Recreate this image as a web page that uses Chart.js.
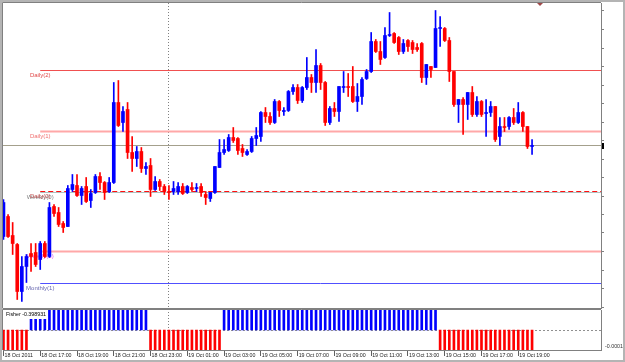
<!DOCTYPE html>
<html>
<head>
<meta charset="utf-8">
<script src="https://cdn.jsdelivr.net/npm/chart.js@4.4.1/dist/chart.umd.min.js"></script>
<style>
html, body { margin: 0; padding: 0; background: #fff; }
#wrap { position: relative; width: 625px; height: 362px; overflow: hidden; background: #fff; }
#main { position: absolute; left: 0; top: 0; }
#sub { position: absolute; left: 0; top: 309px; }
#frame { position: absolute; left: 0; top: 0; width: 625px; height: 362px; box-sizing: border-box; border: 2px solid #b4b4b4; pointer-events: none; }
</style>
</head>
<body>
<div id="wrap">
  <canvas id="main" width="625" height="309"></canvas>
  <canvas id="sub" width="625" height="53"></canvas>
  <div id="frame"></div>
</div>
<script>
// --- Data: M15 bars, prices in points (0 = bottom of the price window) ---
const open = [
  71, 91, 72, 63, 16, 41, 54, 55, 48, 64,
  51, 101, 95, 84, 81, 118, 122, 112, 121, 107,
  115, 131, 125, 116, 125, 205, 185, 198, 155, 149,
  156, 139, 142, 118, 126, 121, 116, 116, 116, 121,
  115, 120, 119, 121, 113, 109, 115, 140, 155, 157,
  170, 169, 159, 153, 156, 169, 171, 195, 191, 185,
  206, 196, 197, 216, 220, 207, 220, 230, 225, 242,
  225, 185, 199, 196, 220, 221, 221, 206, 211, 229,
  236, 266, 256, 250, 272, 274, 270, 256, 267, 265,
  260, 264, 230, 241, 240, 279, 279, 267, 236, 203,
  208, 203, 215, 193, 206, 194, 195, 201, 171, 181,
  181, 190, 185, 195, 181, 161
];
const high = [
  108, 93, 85, 64, 51, 53, 64, 64, 66, 66,
  105, 103, 100, 86, 122, 133, 133, 121, 130, 118,
  133, 135, 126, 130, 225, 227, 201, 205, 171, 161,
  160, 145, 149, 131, 128, 123, 122, 126, 125, 124,
  122, 125, 124, 124, 116, 115, 141, 168, 168, 173,
  180, 170, 163, 158, 171, 180, 196, 200, 195, 208,
  207, 200, 217, 223, 223, 221, 250, 233, 258, 244,
  226, 201, 205, 221, 236, 234, 241, 224, 230, 238,
  275, 268, 266, 280, 295, 275, 271, 268, 268, 267,
  264, 265, 243, 241, 297, 291, 280, 270, 236, 208,
  210, 215, 221, 211, 207, 208, 206, 201, 190, 190,
  191, 199, 205, 196, 181, 168
];
const low = [
  68, 70, 53, 8, 6, 25, 36, 41, 38, 50,
  50, 91, 81, 75, 81, 116, 111, 103, 105, 100,
  114, 118, 108, 115, 124, 181, 176, 149, 136, 141,
  135, 133, 111, 117, 117, 113, 108, 113, 113, 113,
  114, 116, 116, 111, 103, 106, 114, 140, 153, 156,
  165, 153, 151, 152, 155, 162, 166, 185, 183, 184,
  191, 192, 196, 213, 204, 205, 218, 215, 215, 218,
  182, 183, 191, 186, 215, 211, 205, 196, 203, 228,
  235, 255, 243, 249, 271, 264, 253, 254, 256, 254,
  256, 225, 223, 230, 240, 261, 266, 226, 201, 185,
  173, 188, 191, 191, 191, 171, 191, 166, 162, 176,
  178, 183, 184, 176, 159, 153
];
const close = [
  105, 71, 64, 16, 41, 51, 51, 43, 64, 51,
  100, 94, 83, 80, 119, 123, 112, 119, 106, 114,
  131, 125, 115, 125, 205, 182, 196, 155, 149, 156,
  139, 141, 118, 126, 121, 116, 115, 119, 121, 114,
  121, 118, 120, 115, 110, 115, 141, 155, 158, 170,
  167, 157, 155, 156, 169, 172, 195, 191, 185, 206,
  197, 197, 216, 220, 207, 220, 230, 225, 242, 225,
  185, 199, 196, 221, 221, 220, 206, 211, 228, 236,
  266, 256, 248, 272, 273, 265, 256, 264, 261, 258,
  258, 230, 243, 238, 279, 280, 267, 236, 203, 208,
  203, 215, 193, 206, 193, 195, 201, 168, 181, 180,
  190, 185, 195, 181, 161, 162
];
// Fisher histogram is clipped by its window, so only the sign shows; last value from the label
const fisher = [
  -1, -1, -1, -1, -1, -1,
  1, 1, 1, 1, 1, 1, 1, 1, 1, 1,
  1, 1, 1, 1, 1, 1, 1, 1, 1, 1,
  1, 1, 1, 1, 1, 1,
  -1, -1, -1, -1, -1, -1, -1, -1, -1, -1,
  -1, -1, -1, -1, -1, -1,
  1, 1, 1, 1, 1, 1, 1, 1, 1, 1,
  1, 1, 1, 1, 1, 1, 1, 1, 1, 1,
  1, 1, 1, 1, 1, 1, 1, 1, 1, 1,
  1, 1, 1, 1, 1, 1, 1, 1, 1, 1,
  1, 1, 1, 1, 1, 1, 1,
  -1, -1, -1, -1, -1, -1, -1, -1, -1, -1,
  -1, -1, -1, -1, -1, -1, -1, -1, -1, -1,
  -0.398931
];
const tickLabels = ['18 Oct 2011', '18 Oct 17:00', '18 Oct 19:00', '18 Oct 21:00', '18 Oct 23:00',
  '19 Oct 01:00', '19 Oct 03:00', '19 Oct 05:00', '19 Oct 07:00', '19 Oct 09:00',
  '19 Oct 11:00', '19 Oct 13:00', '19 Oct 15:00', '19 Oct 17:00', '19 Oct 19:00'];
const priceTicks = [0.5, 19, 37.5, 56, 74.5, 93, 111.5, 130, 148.5, 167, 185.5, 204, 222.5, 241, 259.5, 278, 297];
const levelNames = ['Weekly(0)', 'Daily(0)', 'Daily(2)', 'Daily(1)', 'Weekly(1)', 'Monthly(1)'];
const levelValues = [115, 116, 237, 176, 56, 24];

// categories: bar times, first bar 18 Oct 15:00, 15 minutes apart
const categories = [];
for (let i = 0; i < close.length; i++) {
    const m = 15 * 60 + i * 15;
    const hh = String(Math.floor((m % 1440) / 60)).padStart(2, '0');
    const mm = String(m % 60).padStart(2, '0');
    categories.push(`${18 + Math.floor(m / 1440)} Oct ${hh}:${mm}`);
}
const tickAt = tickLabels.map((l, k) => k === 0 ? 0 : categories.indexOf(l));
const dayBreak = categories.indexOf('19 Oct 00:00');

// --- Styles ---
const BULL = '#0000ff', BEAR = '#ff0000';
const X_MIN = -0.1, X_MAX = 130; // empty shift area on the right
const levelStart = 8;
const FONT = '"Liberation Sans", Arial, sans-serif';
const levelStyle = {
    'Daily(2)':   { color: '#f05050', width: 1, dash: [], text: '#e04848' },
    'Daily(1)':   { color: '#ffa8a8', width: 2, dash: [], text: '#f07070' },
    'Daily(0)':   { color: '#ff1010', width: 1, dash: [5, 3], text: '#c05050' },
    'Weekly(0)':  { color: '#b0c0c0', width: 1, dash: [], text: '#808080' },
    'Weekly(1)':  { color: '#ffa8a8', width: 2, dash: [], text: '#e050e0' },
    'Monthly(1)': { color: '#5050ff', width: 1, dash: [], text: '#6868b0' }
};
const candleColors = close.map((c, i) => c >= open[i] ? BULL : BEAR);

function drawSeparator(chart, y0, y1) {
    const ctx = chart.ctx;
    const x = Math.floor(chart.scales.x.getPixelForValue(dayBreak)) + 0.5;
    ctx.save();
    ctx.strokeStyle = '#808080'; ctx.lineWidth = 1; ctx.setLineDash([1, 2]);
    ctx.beginPath(); ctx.moveTo(x, y0); ctx.lineTo(x, y1); ctx.stroke();
    ctx.restore();
}

// --- Main price window ---
const levelSets = levelNames.map((n, k) => ({
    type: 'line',
    data: [{ x: levelStart, y: levelValues[k] }, { x: X_MAX, y: levelValues[k] }],
    borderColor: levelStyle[n].color, borderWidth: levelStyle[n].width, borderDash: levelStyle[n].dash,
    pointRadius: 0, order: n === 'Weekly(0)' ? 5 : 4
}));
const bidLine = {
    type: 'line',
    data: [{ x: X_MIN, y: close[close.length - 1] }, { x: X_MAX, y: close[close.length - 1] }],
    borderColor: '#a4a08c', borderWidth: 1, pointRadius: 0, order: 3
};

const mainDecor = {
    id: 'mainDecor',
    beforeDatasetsDraw(chart) {
        const { ctx, chartArea: a, scales: { x, y } } = chart;
        drawSeparator(chart, a.top, a.bottom);
        ctx.save();
        ctx.font = '6px ' + FONT;
        ctx.textAlign = 'center'; ctx.textBaseline = 'middle';
        const lx = x.getPixelForValue(levelStart);
        levelNames.forEach((n, k) => {
            ctx.fillStyle = levelStyle[n].text;
            ctx.fillText(n, lx, y.getPixelForValue(levelValues[k]) + 4.5);
        });
        ctx.restore();
    },
    afterDraw(chart) {
        const { ctx, chartArea: a, scales: { y } } = chart;
        ctx.save();
        ctx.strokeStyle = '#808080'; ctx.lineWidth = 1;
        ctx.beginPath();
        ctx.moveTo(a.left - 0.5, a.bottom + 0.5); ctx.lineTo(a.left - 0.5, a.top - 0.5); ctx.lineTo(a.right, a.top - 0.5);
        ctx.moveTo(a.left, a.bottom + 0.5); ctx.lineTo(a.right, a.bottom + 0.5);
        ctx.stroke();
        // current price marker
        const py = Math.round(y.getPixelForValue(close[close.length - 1]));
        ctx.fillStyle = '#000';
        ctx.fillRect(a.right + 1, py - 3, 2, 6);
        // chart shift marker
        ctx.fillStyle = '#a04848';
        ctx.beginPath(); ctx.moveTo(537, a.top); ctx.lineTo(543, a.top); ctx.lineTo(540, a.top + 3); ctx.fill();
        ctx.restore();
    }
};

new Chart(document.getElementById('main'), {
    type: 'bar',
    data: {
        datasets: [
            { data: open.map((o, i) => ({ x: i, y: [o, close[i]] })), backgroundColor: candleColors,
              barThickness: 3, minBarLength: 1, grouped: false, order: 1 },
            { data: low.map((l, i) => ({ x: i, y: [l, high[i]] })), backgroundColor: candleColors,
              barThickness: 1, grouped: false, order: 2 },
            bidLine,
            ...levelSets
        ]
    },
    options: {
        responsive: false, animation: false, devicePixelRatio: 1,
        layout: { padding: { left: 3, top: 3, right: 0, bottom: 1 } },
        plugins: { legend: { display: false }, tooltip: { enabled: false } },
        scales: {
            x: { type: 'linear', min: X_MIN, max: X_MAX, offset: false, display: false, grid: { offset: false } },
            y: {
                position: 'right', min: -0.5, max: 304.5,
                afterFit: s => { s.width = 24; },
                afterBuildTicks: s => { s.ticks = priceTicks.map(v => ({ value: v })); },
                ticks: { display: false },
                grid: { drawOnChartArea: false, drawTicks: true, tickLength: 3, color: '#808080' },
                border: { display: true, color: '#808080' }
            }
        }
    },
    plugins: [mainDecor]
});

// --- Fisher subwindow ---
const subDecor = {
    id: 'subDecor',
    beforeDatasetsDraw(chart) {
        const { ctx, chartArea: a, scales: { y } } = chart;
        const zy = Math.round(y.getPixelForValue(0)) + 0.5;
        ctx.save();
        ctx.strokeStyle = '#909090'; ctx.lineWidth = 1; ctx.setLineDash([2, 2]);
        ctx.beginPath(); ctx.moveTo(a.left, zy); ctx.lineTo(a.right, zy); ctx.stroke();
        ctx.restore();
        drawSeparator(chart, 0, a.bottom);
    },
    afterDraw(chart) {
        const { ctx, chartArea: a, scales: { y } } = chart;
        ctx.save();
        ctx.strokeStyle = '#808080'; ctx.lineWidth = 1;
        ctx.beginPath();
        ctx.moveTo(a.left - 0.5, a.bottom); ctx.lineTo(a.left - 0.5, 0.5); ctx.lineTo(a.right, 0.5);
        ctx.stroke();
        // indicator name box
        ctx.fillStyle = '#fff';
        ctx.fillRect(a.left, a.top, 45, 9);
        ctx.font = '5.3px ' + FONT;
        ctx.fillStyle = '#000'; ctx.textAlign = 'left'; ctx.textBaseline = 'middle';
        ctx.fillText('Fisher ' + fisher[fisher.length - 1], a.left + 3, a.top + 4.5);
        ctx.fillStyle = '#333';
        ctx.fillText(String(y.min), a.right + 4, a.bottom - 3);
        ctx.restore();
    }
};

new Chart(document.getElementById('sub'), {
    type: 'bar',
    data: {
        datasets: [{
            data: fisher.map((v, i) => ({ x: i, y: v })),
            backgroundColor: fisher.map(v => v >= 0 ? BULL : BEAR),
            barThickness: 2, grouped: false
        }]
    },
    options: {
        responsive: false, animation: false, devicePixelRatio: 1,
        layout: { padding: { left: 3, top: 1, right: 0, bottom: 0 } },
        plugins: { legend: { display: false }, tooltip: { enabled: false } },
        scales: {
            x: {
                type: 'linear', min: X_MIN, max: X_MAX, offset: false,
                afterFit: s => { s.height = 12; },
                afterBuildTicks: s => { s.ticks = tickAt.map(v => ({ value: v })); },
                ticks: {
                    autoSkip: false, maxRotation: 0, minRotation: 0, align: 'start',
                    padding: -4, labelOffset: 1, color: '#222',
                    font: { family: FONT, size: 5.3 },
                    callback: (v, idx) => tickLabels[idx]
                },
                grid: { offset: false, drawOnChartArea: false, drawTicks: true, tickLength: 6, color: '#606060' },
                border: { display: true, color: '#808080' }
            },
            y: {
                position: 'right', min: -0.0001, max: 0.0001,
                afterFit: s => { s.width = 24; },
                ticks: { display: false },
                grid: { display: false },
                border: { display: true, color: '#808080' }
            }
        }
    },
    plugins: [subDecor]
});
</script>
</body>
</html>
